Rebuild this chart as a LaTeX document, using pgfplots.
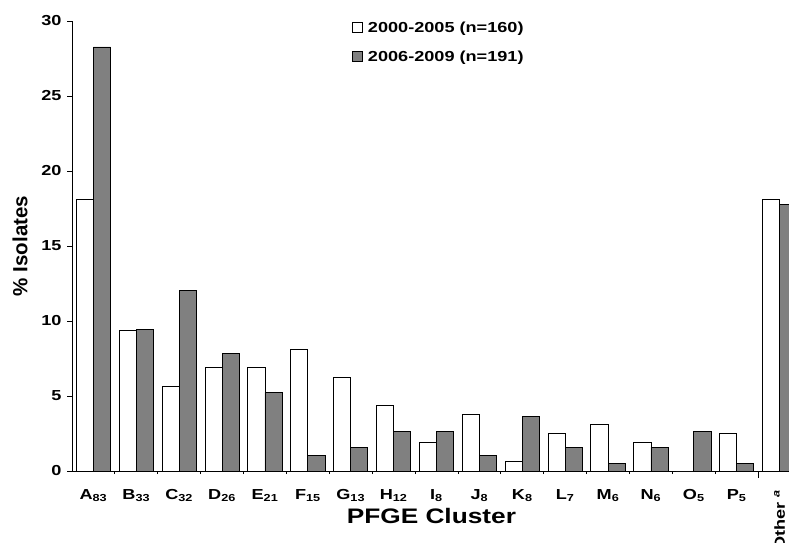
\documentclass[border=0pt]{standalone}
\usepackage{fontspec}
\setmainfont{Liberation Sans}[FakeStretch=1.25]
\newfontfamily\plainsans{Liberation Sans}
\usepackage{pgfplots}
\pgfplotsset{compat=1.18}
\definecolor{bargray}{HTML}{808080}
\begin{document}
\begin{tikzpicture}[x=1pt,y=1pt]
\path[use as bounding box] (0,0) rectangle (789,542);
\clip (0,0) rectangle (789,542);
\begin{axis}[
  at={(72pt,71pt)}, anchor=south west,
  scale only axis, width=729pt, height=450pt,
  xmin=-0.5, xmax=16.5, ymin=0, ymax=30,
  axis x line*=bottom, axis y line*=left,
  axis line style={line width=0.9pt},
  ybar=0pt, bar width=0.4,
  ytick={0,5,...,30},
  tick align=outside,
  major tick length=5pt,
  minor tick length=3pt,
  every tick/.style={black, line width=0.8pt},
  xtick={0,...,16},
  major x tick style={draw=none},
  minor xtick={0.5,1.5,...,14.5},
  extra x ticks={15.5},
  extra x tick labels={},
  extra x tick style={major x tick style={draw=black}, major tick length=7pt},
  xticklabels={A\textsubscript{83},B\textsubscript{33},C\textsubscript{32},D\textsubscript{26},E\textsubscript{21},F\textsubscript{15},G\textsubscript{13},H\textsubscript{12},I\textsubscript{8},J\textsubscript{8},K\textsubscript{8},L\textsubscript{7},M\textsubscript{6},N\textsubscript{6},O\textsubscript{5},P\textsubscript{5},{\rotatebox{90}{Other \textsuperscript{\textit{a}}}}},
  /pgf/number format/assume math mode=true,
  ticklabel style={font=\bfseries\fontsize{14.5}{16}\selectfont},
  xticklabel style={anchor=north, yshift=-10pt},
  yticklabel style={xshift=-2pt},
  xlabel={PFGE Cluster},
  xlabel style={font=\bfseries\fontsize{21}{24}\selectfont, at={(axis description cs:0.493,0)}, anchor=base, yshift=-52pt},
  ylabel={\plainsans\bfseries\fontsize{20.5}{24}\selectfont \% Isolates},
  ylabel style={at={(axis description cs:-0.0713,0.5)}, anchor=center},
  legend style={draw=none, fill=none, at={(axis description cs:0.384,1.003)}, anchor=north west,
    font=\bfseries\fontsize{14.5}{16}\selectfont, row sep=13pt, inner sep=0pt},
  legend cell align=left,
  legend image code/.code={\draw[#1, line width=0.8pt] (0pt,-5pt) rectangle (10pt,5pt); \path (13pt,0pt);},
]
\addplot[fill=white, draw=black, line width=0.8pt] coordinates {
(0,18.125) (1,9.375) (2,5.625) (3,6.875) (4,6.875) (5,8.125) (6,6.25) (7,4.375)
(8,1.875) (9,3.75) (10,0.625) (11,2.5) (12,3.125) (13,1.875) (14,0) (15,2.5) (16,18.125)};
\addplot[fill=bargray, draw=black, line width=0.8pt] coordinates {
(0,28.27) (1,9.42) (2,12.04) (3,7.85) (4,5.24) (5,1.05) (6,1.57) (7,2.62)
(8,2.62) (9,1.05) (10,3.66) (11,1.57) (12,0.52) (13,1.57) (14,2.62) (15,0.52) (16,17.80)};
\legend{2000-2005 (n=160), 2006-2009 (n=191)}
\end{axis}
\end{tikzpicture}
\end{document}
